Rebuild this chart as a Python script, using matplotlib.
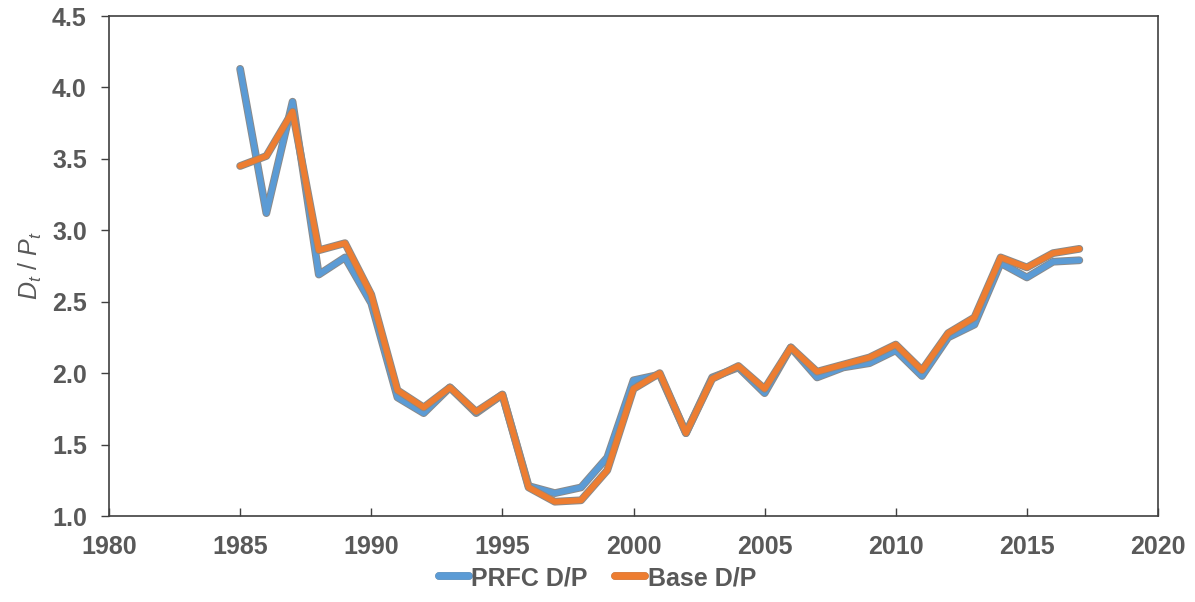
import numpy as np
import matplotlib
matplotlib.use("Agg")
import matplotlib.pyplot as plt
import matplotlib.patheffects as pe

# data
years = list(range(1985, 2018))
prfc_dp = [4.13, 3.12, 3.90, 2.69, 2.81, 2.49, 1.83, 1.72, 1.90, 1.72, 1.85,
           1.21, 1.16, 1.20, 1.41, 1.95, 1.99, 1.58, 1.97, 2.04, 1.86, 2.18,
           1.97, 2.04, 2.07, 2.16, 1.98, 2.25, 2.34, 2.77, 2.67, 2.78, 2.79]
base_dp = [3.45, 3.52, 3.83, 2.86, 2.91, 2.55, 1.88, 1.76, 1.90, 1.73, 1.85,
           1.20, 1.10, 1.11, 1.32, 1.89, 2.00, 1.58, 1.96, 2.05, 1.89, 2.18,
           2.01, 2.06, 2.11, 2.20, 2.02, 2.28, 2.39, 2.81, 2.74, 2.84, 2.87]

x_ticks = [1980, 1985, 1990, 1995, 2000, 2005, 2010, 2015, 2020]
y_ticks = [1.0, 1.5, 2.0, 2.5, 3.0, 3.5, 4.0, 4.5]

gray = "#595959"
plt.rcParams["font.family"] = ["Liberation Sans", "DejaVu Sans"]
plt.rcParams["mathtext.fontset"] = "custom"
plt.rcParams["mathtext.it"] = "Liberation Sans:italic"
plt.rcParams["mathtext.rm"] = "Liberation Sans"

fig = plt.figure(figsize=(11.95, 6.02), dpi=100)
ax = fig.add_axes([109 / 1195, 1 - 516 / 602, (1158 - 109) / 1195, (516 - 16) / 602])

outline = [pe.Stroke(linewidth=5.6, foreground="#8a8a8a"), pe.Normal()]
ax.plot(years, prfc_dp, color="#5B9BD5", lw=4.2, solid_capstyle="round",
        solid_joinstyle="round", label="PRFC D/P", path_effects=outline)
ax.plot(years, base_dp, color="#ED7D31", lw=4.2, solid_capstyle="round",
        solid_joinstyle="round", label="Base D/P", path_effects=outline)

ax.set_xlim(1980, 2020)
ax.set_ylim(1.0, 4.5)
ax.set_xticks(x_ticks)
ax.set_yticks(y_ticks)
ax.set_yticklabels([f"{v:.1f}" for v in y_ticks])

for s in ax.spines.values():
    s.set_color("#404040")
    s.set_linewidth(1.2)
ax.tick_params(axis="x", direction="in", length=6, width=1, color="#404040",
               labelsize=18, labelcolor=gray, pad=14)
ax.tick_params(axis="y", direction="out", length=6, width=1, color="#404040",
               labelsize=18, labelcolor=gray, pad=10)
for lab in ax.get_xticklabels() + ax.get_yticklabels():
    lab.set_fontweight("bold")

ax.set_ylabel(r"$D_t$ / $P_t$", fontsize=18, color=gray, labelpad=6)

leg = fig.legend(loc="center", bbox_to_anchor=(0.5, 1 - 578 / 602), ncol=2,
                 frameon=False, handlelength=1.2, handletextpad=0.1,
                 columnspacing=1.1, prop={"weight": "bold", "size": 18})
for t in leg.get_texts():
    t.set_color(gray)
for h in leg.get_lines():
    h.set_linewidth(5.5)
    h.set_solid_capstyle("round")

fig.savefig("out.png", dpi=100)
